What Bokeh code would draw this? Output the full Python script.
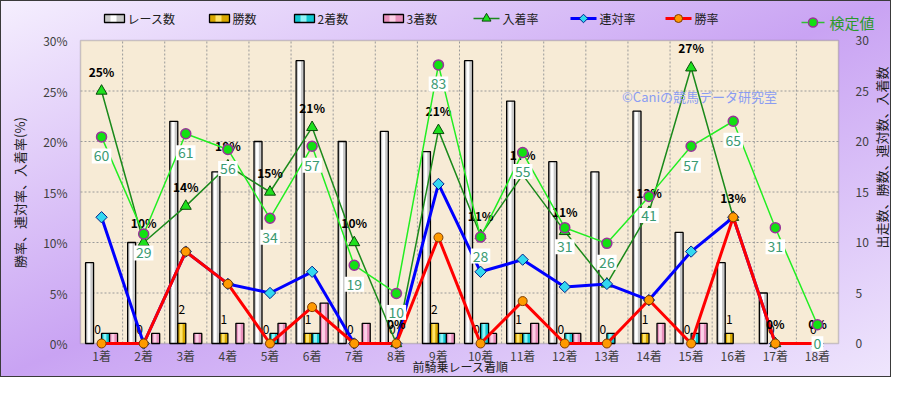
import numpy as np
from bokeh.plotting import figure
from bokeh.models import (ColumnDataSource, Range1d, Label, CDSView, BooleanFilter, BoxAnnotation)
from bokeh.transform import dodge
from bokeh.core.properties import value
from bokeh.embed import file_html
from bokeh.resources import INLINE

# ---------------- data ----------------
categories = ["1着", "2着", "3着", "4着", "5着", "6着", "7着", "8着", "9着",
              "10着", "11着", "12着", "13着", "14着", "15着", "16着", "17着", "18着"]
races   = [8, 10, 22, 17, 20, 28, 20, 21, 19, 28, 24, 18, 17, 23, 11, 8, 5, 0]
wins    = [0, 0, 2, 1, 0, 1, 0, 0, 2, 0, 1, 0, 0, 1, 0, 1, 0, 0]
seconds = [1, 0, 0, 0, 1, 1, 0, 0, 1, 2, 1, 1, 1, 0, 1, 0, 0, 0]
thirds  = [1, 1, 1, 2, 2, 4, 2, 0, 1, 1, 2, 1, 0, 2, 2, 0, 0, 0]
win_rate    = [0, 0, 9.1, 5.9, 0, 3.6, 0, 0, 10.5, 0, 4.2, 0, 0, 4.3, 0, 12.5, 0, 0]
rentai_rate = [12.5, 0, 9.1, 5.9, 5.0, 7.1, 0, 0, 15.8, 7.1, 8.3, 5.6, 5.9, 4.3, 9.1, 12.5, 0, 0]
nyu_rate    = [25.0, 10.0, 13.6, 17.6, 15.0, 21.4, 10.0, 0, 21.1, 10.7, 16.7, 11.1, 5.9, 13.0, 27.3, 12.5, 0, 0]
nyu_labels  = ["25%", "10%", "14%", "18%", "15%", "21%", "10%", "0%", "21%", "11%",
               "17%", "11%", "6%", "13%", "27%", "13%", "0%", "0%"]
kentei      = [60, 29, 61, 56, 34, 57, 19, 10, 83, 28, 55, 31, 26, 41, 57, 65, 31, 0]
pct_ticks   = [0, 5, 10, 15, 20, 25, 30]
legend_bar_labels  = ["レース数", "勝数", "2着数", "3着数"]
legend_line_labels = ["入着率", "連対率", "勝率"]
legend_kentei_label = "検定値"
title_left = "勝率、連対率、入着率(%)"
title_right = "出走数、勝数、連対数、入着数"
title_x = "前騎乗レース着順"
watermark = "©Caniの競馬データ研究室"

FONT = "Noto Sans CJK JP"

# colours
RACE_FILL, RACE_HI = "#c8c8c8", "#ffffff"
WIN_FILL, WIN_HI = "#d9a800", "#ffe46a"
SEC_FILL, SEC_HI = "#12c8d2", "#8ff4f8"
THR_FILL, THR_HI = "#e890bc", "#fcd0e6"
NYU_LINE, NYU_FILL, NYU_EDGE = "#1b8a1b", "#1ee01e", "#0b4a0b"
REN_LINE, REN_FILL, REN_EDGE = "#0000ff", "#33d8f0", "#00208a"
WIN_LINE, WIN_MFILL, WIN_EDGE = "#ff0000", "#ff9a00", "#7a3a00"
KEN_LINE, KEN_FILL, KEN_EDGE = "#22ee22", "#12e012", "#993399"

# ---------------- layout (pixels) ----------------
W, H = 891, 377
PLOT_L, PLOT_R, PLOT_T, PLOT_B = 80, 838, 40, 343
XU = (PLOT_R - PLOT_L) / len(categories)
YU = (PLOT_B - PLOT_T) / (pct_ticks[-1] - pct_ticks[0])
def px2x(X):
    return 0.5 + (X - PLOT_L) / XU
def px2y(Y):
    return (PLOT_B - Y) / YU
K0, KS = -6.0, 96.8 / 30.0   # 検定値 axis (hidden)

xs = [i + 1 for i in range(len(categories))]
src = ColumnDataSource(dict(
    x=xs, races=races, wins=wins, seconds=seconds, thirds=thirds,
    win=win_rate, rentai=rentai_rate, nyu=nyu_rate, nyu_lbl=nyu_labels,
    kentei=kentei, kentei_lbl=[str(v) for v in kentei], win_lbl=[str(v) for v in wins]))

p = figure(width=W, height=H, output_backend="svg", toolbar_location=None,
           x_range=Range1d(px2x(0), px2x(W)), y_range=Range1d(px2y(H), px2y(0)),
           x_axis_location=None, y_axis_location=None, min_border=0)
p.extra_y_ranges = {"count": Range1d(px2y(H), px2y(0)),
                    "kentei": Range1d(K0 + KS * px2y(H), K0 + KS * px2y(0))}
p.grid.visible = False
p.border_fill_color = None
p.background_fill_color = None
p.outline_line_color = None
p.styles = {"background": "linear-gradient(to bottom right, #f5effe 0%, #c9a3f3 50%, #efe6fd 100%)",
            "outline": "1px solid #3a3a3a", "outline-offset": "-1px"}

xlo, xhi = xs[0] - 0.5, xs[-1] + 0.5
ylo, yhi = pct_ticks[0], pct_ticks[-1]
p.add_layout(BoxAnnotation(left=xlo, right=xhi, bottom=ylo, top=yhi, fill_color="#f7ebd6",
                           fill_alpha=1, line_color="#6a6a6a", line_width=1.5, level="image"))

# grid lines
bounds = [x + 0.5 for x in xs[:-1]]
p.segment(x0=bounds, x1=bounds, y0=[ylo] * len(bounds), y1=[yhi] * len(bounds),
          line_color="#9a9a9a", line_dash="2 2", line_width=1)
inner = pct_ticks[1:-1]
p.segment(x0=[xlo] * len(inner), x1=[xhi] * len(inner), y0=inner, y1=inner,
          line_color="#9a9a9a", line_dash="2 2", line_width=1)

# tick labels
TICK = dict(text_font=value(FONT), text_font_size="12px", text_color="#404040",
            text_baseline="middle")
p.text(x=[xlo] * len(pct_ticks), y=pct_ticks, text=[f"{t}%" for t in pct_ticks],
       x_offset=-13, text_align="right", **TICK)
p.text(x=[xhi] * len(pct_ticks), y=pct_ticks, y_range_name="count",
       text=[str(t) for t in pct_ticks], x_offset=17, text_align="left", **TICK)
p.text(x=xs, y=[ylo] * len(xs), text=categories, y_offset=12, text_align="center", **TICK)

# bars
BAR_W = 0.19
def bars(col, off, fill, hi):
    mask = [v > 0 for v in src.data[col]]
    p.vbar(x=dodge("x", off, range=p.x_range), top=col, width=BAR_W, source=src,
           view=CDSView(filter=BooleanFilter(mask)), y_range_name="count",
           fill_color=fill, line_color=None)
    p.vbar(x=dodge("x", off - 0.015, range=p.x_range), top=col, width=0.07, source=src,
           view=CDSView(filter=BooleanFilter(mask)), y_range_name="count",
           fill_color=hi, line_color=None)
    p.vbar(x=dodge("x", off, range=p.x_range), top=col, width=BAR_W, source=src,
           view=CDSView(filter=BooleanFilter(mask)), y_range_name="count",
           fill_color=None, line_color="black", line_width=1.3)

bars("races", -0.285, RACE_FILL, RACE_HI)
bars("wins", -0.095, WIN_FILL, WIN_HI)
bars("seconds", 0.095, SEC_FILL, SEC_HI)
bars("thirds", 0.285, THR_FILL, THR_HI)

# win count labels
p.text(x=dodge("x", -0.095, range=p.x_range), y="wins", text="win_lbl", source=src,
       y_range_name="count", y_offset=-14, text_align="center", text_baseline="middle",
       text_font=value(FONT), text_font_size="12px", text_color="black")

# rate lines
p.line("x", "nyu", source=src, line_color=NYU_LINE, line_width=1.5)
p.scatter("x", "nyu", source=src, marker="triangle", size=11,
          fill_color=NYU_FILL, line_color=NYU_EDGE, line_width=1)
p.line("x", "rentai", source=src, line_color=REN_LINE, line_width=3)
p.scatter("x", "rentai", source=src, marker="square", angle=np.pi / 4, size=8,
          fill_color=REN_FILL, line_color=REN_EDGE, line_width=1)
p.line("x", "win", source=src, line_color=WIN_LINE, line_width=3)
p.scatter("x", "win", source=src, marker="circle", size=9,
          fill_color=WIN_MFILL, line_color=WIN_EDGE, line_width=1)

# 入着率 labels
p.text(x="x", y="nyu", text="nyu_lbl", source=src, y_offset=-20,
       text_align="center", text_baseline="middle", text_font=value(FONT),
       text_font_size="12px", text_font_style="bold", text_color="black")

# 検定値
p.line("x", "kentei", source=src, y_range_name="kentei", line_color=KEN_LINE, line_width=1.5)
p.scatter("x", "kentei", source=src, y_range_name="kentei", marker="circle",
          size=10, fill_color=KEN_FILL, line_color=KEN_EDGE, line_width=1.5)
p.text(x="x", y="kentei", text="kentei_lbl", source=src, y_range_name="kentei",
       y_offset=19, text_align="center", text_baseline="middle", text_font=value(FONT),
       text_font_size="14px", text_color="#3a9a72",
       background_fill_color="white", padding=2)

# titles & watermark
p.add_layout(Label(x=px2x(19), y=px2y(192), text=title_left, angle=np.pi / 2,
                   text_align="center", text_baseline="middle", text_font=FONT,
                   text_font_size="13px", text_color="#202020"))
p.add_layout(Label(x=px2x(881), y=px2y(157), text=title_right, angle=np.pi / 2,
                   text_align="center", text_baseline="middle", text_font=FONT,
                   text_font_size="13px", text_color="#202020"))
p.add_layout(Label(x=px2x(460), y=px2y(366), text=title_x, text_align="center",
                   text_baseline="middle", text_font=FONT, text_font_size="12px",
                   text_color="#202020"))
p.add_layout(Label(x=px2x(699), y=px2y(96), text=watermark, text_align="center",
                   text_baseline="middle", text_font=FONT, text_font_size="13px",
                   text_color="#8a9cf2"))

# ---------------- legend (top strip) ----------------
LEG_Y = 18
yc = px2y(LEG_Y)
ytop, ybot = px2y(LEG_Y - 4), px2y(LEG_Y + 4)
LEGTXT = dict(text_baseline="middle", text_align="left", text_font=value(FONT),
              text_font_size="12px", text_color="#202020")
bar_icon_left = [104, 209, 294, 383]
for lx, lab, (fc, hc) in zip(bar_icon_left, legend_bar_labels,
                             [(RACE_FILL, RACE_HI), (WIN_FILL, WIN_HI),
                              (SEC_FILL, SEC_HI), (THR_FILL, THR_HI)]):
    p.quad(left=[px2x(lx)], right=[px2x(lx + 20)], bottom=[ybot], top=[ytop],
           fill_color=fc, line_color=None)
    p.quad(left=[px2x(lx + 6)], right=[px2x(lx + 12)], bottom=[ybot], top=[ytop],
           fill_color=hc, line_color=None)
    p.quad(left=[px2x(lx)], right=[px2x(lx + 20)], bottom=[ybot], top=[ytop],
           fill_color=None, line_color="black", line_width=1.3)
    p.text(x=[px2x(lx + 23)], y=[yc], text=[lab], **LEGTXT)

line_icon_left = [473, 570, 665]
line_styles = [
    (NYU_LINE, 1.5, "triangle", 0, 9, NYU_FILL, NYU_EDGE),
    (REN_LINE, 3, "square", np.pi / 4, 6, REN_FILL, REN_EDGE),
    (WIN_LINE, 3, "circle", 0, 8, WIN_MFILL, WIN_EDGE),
]
for lx, lab, (lc, lw, mk, ang, ms, mf, me) in zip(line_icon_left, legend_line_labels, line_styles):
    p.line(x=[px2x(lx), px2x(lx + 26)], y=[yc, yc], line_color=lc, line_width=lw)
    p.scatter(x=[px2x(lx + 13)], y=[yc], marker=mk, angle=ang, size=ms,
              fill_color=mf, line_color=me, line_width=1)
    p.text(x=[px2x(lx + 29)], y=[yc], text=[lab], **LEGTXT)

ky = px2y(22)
p.line(x=[px2x(801), px2x(824)], y=[ky, ky], line_color="#30c030", line_width=1.5)
p.scatter(x=[px2x(812.5)], y=[ky], marker="circle", size=9, fill_color=KEN_FILL,
          line_color=KEN_EDGE, line_width=1.5)
p.text(x=[px2x(829)], y=[ky], text=[legend_kentei_label], text_baseline="middle",
       text_align="left", text_font=value(FONT), text_font_size="15px", text_color="#2a9a2a")

open("out.html", "w").write(file_html(p, INLINE))
